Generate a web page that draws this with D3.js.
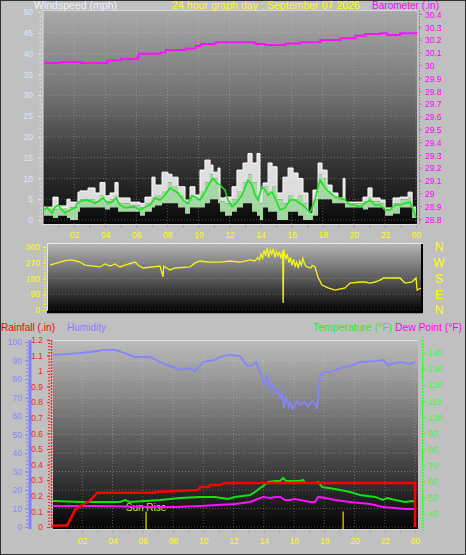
<!DOCTYPE html>
<html><head><meta charset="utf-8">
<script src="https://cdn.jsdelivr.net/npm/d3@7"></script>
<style>
html,body{margin:0;padding:0;background:#c0c0c0;}
svg{display:block;font-family:"Liberation Sans",Arial,sans-serif;}
</style></head><body>
<svg id="c" width="466" height="555"></svg>
<script>
// ---------- DATA ----------
const hourTicks = [2,4,6,8,10,12,14,16,18,20,22,24];
const windTicks = [0,5,10,15,20,25,30,35,40,45,50];
const baroTicks = [28.8,28.9,29,29.1,29.2,29.3,29.4,29.5,29.6,29.7,29.8,29.9,30,30.1,30.2,30.3,30.4];
const dirTicks = [0,90,180,270,360];
const compass = ["N","E","S","W","N"];
const humTicks = [0,10,20,30,40,50,60,70,80,90,100];
const rainTicks = [0,0.1,0.2,0.3,0.4,0.5,0.6,0.7,0.8,0.9,1,1.1,1.2];
const tempTicks = [40,50,60,70,80,90,100,110,120,130,140];

// wind (mph): time (h), gust, speed, low
const windHours = [0.06,0.64,0.97,1.54,1.74,2.25,2.38,2.9,3.35,3.67,3.99,4.31,4.63,4.83,5.6,6.24,6.56,7.01,7.21,7.66,8.04,8.3,8.69,9.14,9.46,9.78,10.1,10.42,10.75,10.94,11.26,11.39,11.71,12.16,12.48,12.87,13.19,13.45,13.77,13.96,14.16,14.48,14.74,15.06,15.44,15.77,16.09,16.41,16.73,17.05,17.37,17.7,17.95,18.28,18.6,18.98,19.31,19.43,20.59,20.91,21.17,21.69,22.01,22.52,22.97,23.49,23.75,24];
const windGust = [3.1,5.5,3,5,4.3,6.7,7,7.7,6.5,9,5.8,6.5,9,5.3,4.3,4,5.5,10.3,8.4,11.5,11,10.3,8,4.8,8,6,12,14.4,13.2,11.5,12.5,5.3,5.5,8,12,13.7,16,13.7,16,7.2,8.9,13.7,12.8,6.5,10.3,12.5,11.3,10,6.5,1.5,7.2,13.7,12,8.4,6.5,5.3,10,4.3,5.5,7.7,5.3,4.8,2.9,5.3,5.5,6.7,3.1,3.1];
const windSpeed = [3,2.5,3.5,2,3,4,5,5,4.5,6,4.5,5,6,4,3.5,3,4,5.5,6,7,9,8,6,4,6,5,7,9,11,10,8,4.5,4,5,7,9,11,9,6,4,8,7,8,5,4,6,5,6,4,1.5,5,11,10,7,5.5,5,6,4,4.5,5.5,4.5,4,2.5,4,5,5.5,3,1];
const windLow = [1,0.5,1,0.5,0,2,3,3,3,3,2.5,3,3,2,2,1,2,3,3.5,4,4,4,3,1.5,3,3,3,4,5,5,4,2,1,2,3,4,4,2,1,0,3,2,2,0,0,2,2,1,0,0,1,5,5,5,4,4,4,3,2.5,3,3,3,1,1.5,3,3,0.5,0];
// wind average: [hour, mph]
const windAvg = [[0.06,2.4],[0.26,3],[0.58,1.7],[0.77,3.1],[0.97,3.6],[1.22,2.4],[1.42,1.7],[1.74,2.4],[2.06,2.9],[2.25,4.3],[2.7,4.8],[3.02,4.6],[3.35,4],[3.67,4.8],[3.86,5.3],[4.18,4],[4.44,4.3],[4.7,5.3],[4.95,3.6],[5.28,2.9],[5.6,3.1],[5.92,3.1],[6.24,2.4],[6.56,3.1],[6.89,3.6],[7.21,5.3],[7.53,4.8],[7.85,6],[8.17,7.7],[8.37,7.2],[8.69,6.5],[9.01,4.8],[9.33,4],[9.59,5.8],[9.91,5.3],[10.1,4.8],[10.42,6.7],[10.75,9.1],[10.94,10],[11.2,8.9],[11.39,8.4],[11.71,7.2],[11.9,4.8],[12.16,3.2],[12.48,4.3],[12.81,6],[13.19,9.6],[13.45,8.4],[13.64,6],[13.84,4.8],[14.09,8],[14.29,7.2],[14.48,6],[14.74,6.7],[14.99,4.8],[15.25,2.4],[15.57,2.9],[15.89,4.8],[16.22,4.8],[16.54,4],[16.86,3.1],[17.18,1.7],[17.5,4.8],[17.82,9.6],[18.15,7.7],[18.47,6.5],[18.79,5.5],[19.11,5.3],[19.43,4.8],[19.76,3.6],[20.08,3.6],[20.4,3.1],[20.72,4],[21.04,4.8],[21.36,3.6],[21.69,3.6],[22.01,2.4],[22.33,2.4],[22.65,3.6],[22.97,3.6],[23.29,4],[23.62,4.3],[23.81,2.4],[24,0.7]];
// barometer (in): [hour, value]
const baro = [[0.06,30.017],[1.16,30.025],[2.44,30.017],[4.11,30.025],[4.17,30.04],[5.0,30.048],[6.1,30.07],[6.16,30.09],[7.57,30.10],[7.9,30.12],[8.86,30.12],[9.18,30.13],[9.82,30.15],[10.14,30.166],[11.1,30.18],[12.7,30.18],[13.67,30.166],[14.3,30.158],[14.96,30.158],[15.6,30.17],[16.56,30.18],[17.84,30.197],[19.13,30.21],[20.1,30.23],[20.73,30.244],[21.7,30.25],[22.14,30.236],[22.98,30.25],[24,30.26]];
// wind direction (deg): [hour, value]
const windDir = [[0.13,257],[0.77,274],[1.09,282],[1.5,286],[1.8,280],[2.06,274],[2.38,257],[3.35,246],[3.67,263],[3.99,251],[4.31,263],[4.63,246],[4.95,257],[5.6,274],[5.79,257],[6.11,240],[7.21,251],[7.4,189],[7.45,251],[7.53,246],[7.85,229],[8.17,240],[9.14,246],[9.46,269],[9.78,280],[10.42,274],[11.07,274],[11.71,280],[12.36,274],[13.0,286],[13.3,280],[13.5,300],[13.6,285],[13.7,320],[13.8,295],[13.9,340],[14.0,310],[14.1,355],[14.2,300],[14.3,345],[14.4,320],[14.5,350],[14.6,300],[14.7,335],[14.8,310],[14.9,330],[15.0,295],[15.1,340],[15.13,40],[15.17,345],[15.3,290],[15.4,320],[15.5,270],[15.6,300],[15.7,255],[15.8,290],[15.9,250],[16.0,275],[16.1,240],[16.2,280],[16.3,255],[16.4,295],[16.5,265],[16.6,250],[16.7,245],[16.9,240],[17.0,255],[17.18,246],[17.37,189],[17.63,143],[18.02,126],[18.47,114],[19.11,126],[19.43,154],[20.08,160],[20.4,160],[20.72,154],[21.04,160],[21.36,171],[21.6,183],[22.33,183],[22.65,183],[22.97,154],[23.42,160],[23.68,183],[23.75,114],[24,126]];
// humidity (%): [hour, value]
const humidity = [[0.07,93],[1.85,94],[2.51,94.6],[3.5,95.7],[4.17,95.7],[4.83,94],[5.49,91.9],[6.48,91.9],[7.14,89.2],[7.8,87],[8.47,84.9],[9.13,85.9],[9.46,84.3],[9.99,89.2],[10.78,90.3],[11.11,91.9],[11.77,93],[12.43,92.4],[12.9,87],[13.29,87.6],[13.49,89.2],[13.89,80.5],[14.09,76.8],[14.2,82],[14.29,79.5],[14.42,75.1],[14.55,77],[14.75,72.4],[14.9,74],[15.08,70.3],[15.2,72],[15.34,64.3],[15.45,70],[15.54,68.6],[15.65,65],[15.74,67.6],[15.9,64],[16.07,65.9],[16.2,68],[16.4,65.9],[16.55,67],[16.73,67.6],[16.9,65],[17.06,67],[17.2,68],[17.39,66.5],[17.53,63.8],[17.72,82.2],[18.06,83.8],[18.39,83.8],[19.05,85.9],[19.71,87],[20.37,89.2],[21.36,89.7],[21.89,90.3],[22.22,87.6],[23.02,89.2],[23.68,88.1],[24,89.2]];
// rainfall (in): [hour, value]
const rainfall = [[0,0],[0.13,0.01],[0.99,0.01],[1.19,0.045],[1.52,0.11],[1.98,0.14],[2.51,0.17],[2.98,0.22],[6.81,0.22],[6.82,0.225],[9.66,0.237],[9.79,0.256],[10.32,0.256],[10.45,0.27],[11.11,0.27],[11.44,0.282],[24,0.282],[24.01,0]];
// temperature (F): [hour, value]
const temperature = [[0.07,48.1],[1.98,47.5],[4.5,47.5],[4.83,48.7],[5.16,47.5],[7.14,48.7],[8.47,49.9],[9.79,50.6],[10.78,50.6],[11.64,49.3],[12.1,50.6],[13.1,51.8],[13.43,53.7],[13.76,56.1],[13.96,57.4],[14.29,59.9],[14.75,60.5],[15.08,60.5],[15.28,62.4],[15.48,60.5],[15.74,60.5],[16.4,60.5],[16.6,61.1],[16.73,59.3],[17.06,59.3],[17.39,59.3],[17.59,59.9],[17.86,56.8],[18.72,55.5],[19.71,53.7],[20.37,51.8],[21.36,50.6],[21.89,48.7],[22.16,49.9],[22.69,48.7],[23.35,47.5],[23.81,48.1],[24,47.5]];
// dew point (F): [hour, value]
const dewPoint = [[0.07,45],[3.17,45],[6.48,44.3],[8.13,44.3],[9.79,45],[12.1,46.2],[13.1,47.5],[13.43,48.7],[13.76,49.9],[13.96,50.6],[14.42,49.9],[14.75,50.6],[15.08,50.6],[15.41,48.7],[15.74,48.7],[16.07,49.3],[16.4,48.7],[17.06,47.5],[17.39,47.5],[17.59,50.6],[18.06,49.9],[18.72,48.7],[19.71,47.5],[21.03,46.2],[21.89,44.3],[22.69,43.7],[23.35,43.1],[24,43.1]];
const sunRise = 6.22, sunSet = 19.25;

// ---------- CHART ----------
const svg = d3.select("#c");
const defs = svg.append("defs");
function grad(id, stops){
  const g = defs.append("linearGradient").attr("id",id).attr("x1",0).attr("y1",0).attr("x2",0).attr("y2",1);
  stops.forEach(s=>g.append("stop").attr("offset",s[0]).attr("stop-color",s[1]));
}
grad("gTop",[[0,"#aaaaaa"],[0.4,"#717171"],[0.65,"#404040"],[0.9,"#181818"],[1,"#070707"]]);
grad("gDir",[[0,"#b4b4b4"],[0.5,"#5c5c5c"],[1,"#020202"]]);
grad("gBot",[[0,"#bcbcbc"],[0.45,"#6c6c6c"],[0.75,"#323232"],[1,"#030303"]]);
function clip(id,x,y,w,h){ defs.append("clipPath").attr("id",id).append("rect").attr("x",x).attr("y",y).attr("width",w).attr("height",h); }

const F = "Liberation Sans, Arial, sans-serif";
const fmtHour = h => String(h%24).padStart(2,"0");
function styleAxis(g,color,lineColor,fs){
  g.select(".domain").remove();
  g.selectAll("line").attr("stroke",lineColor||color);
  g.selectAll("text").attr("fill",color).style("font-size",(fs||8.5)+"px").style("font-family",F);
}
function title(txt,x,y,w,color,fs){
  svg.append("text").attr("x",x).attr("y",y).attr("textLength",w).attr("lengthAdjust","spacingAndGlyphs")
    .attr("fill",color).style("font-size",(fs||11)+"px").style("font-family",F).text(txt);
}

// ===== TOP PANEL =====
const TP = {x:43,y:10,w:374,h:214};
const xTop = d3.scaleLinear().domain([0,24]).range([43,416]);
const yWind = d3.scaleLinear().domain([0,50]).range([220,12]);
const yBaro = d3.scaleLinear().domain([28.8,30.4]).range([219,14]);
clip("cTop",TP.x,TP.y,TP.w,TP.h);
svg.append("rect").attr("x",TP.x).attr("y",TP.y).attr("width",TP.w).attr("height",TP.h).attr("fill","url(#gTop)");
const gTop = svg.append("g").attr("clip-path","url(#cTop)");
windTicks.forEach(v=>gTop.append("line").attr("x1",TP.x).attr("x2",TP.x+TP.w).attr("y1",yWind(v)).attr("y2",yWind(v))
  .attr("stroke","#d0d0d0").attr("stroke-opacity",0.35).attr("stroke-dasharray","1,2"));
hourTicks.forEach(h=>gTop.append("line").attr("x1",xTop(h)).attr("x2",xTop(h)).attr("y1",TP.y).attr("y2",TP.y+TP.h)
  .attr("stroke","#d0d0d0").attr("stroke-opacity",0.35).attr("stroke-dasharray","1,2"));
const windRows = windHours.map((h,i)=>({h, g:windGust[i], s:windSpeed[i], l:windLow[i]}));
gTop.append("path").datum(windRows).attr("fill","#f2f2f2").attr("fill-opacity",0.9)
  .attr("d",d3.area().curve(d3.curveStepAfter).x(d=>xTop(d.h)).y0(d=>yWind(d.s)).y1(d=>yWind(d.g)));
gTop.append("path").datum(windRows).attr("fill","#b4ecb4").attr("fill-opacity",0.9)
  .attr("d",d3.area().curve(d3.curveStepAfter).x(d=>xTop(d.h)).y0(d=>yWind(d.l)).y1(d=>yWind(d.s)));
gTop.append("path").datum(windRows).attr("fill","none").attr("stroke","#ffffff").attr("stroke-width",1)
  .attr("d",d3.line().curve(d3.curveStepAfter).x(d=>xTop(d.h)).y(d=>yWind(d.g)));
gTop.append("path").datum(windAvg).attr("fill","none").attr("stroke","#1ee01e").attr("stroke-width",1.6)
  .attr("d",d3.line().x(d=>xTop(d[0])).y(d=>yWind(d[1])));
gTop.append("path").datum(baro).attr("fill","none").attr("stroke","#ff10ff").attr("stroke-width",2)
  .attr("d",d3.line().curve(d3.curveStepAfter).x(d=>xTop(d[0])).y(d=>yBaro(d[1])));
// frame
svg.append("line").attr("x1",43).attr("x2",43).attr("y1",10).attr("y2",225).attr("stroke","#e0e0e0");
svg.append("line").attr("x1",43).attr("x2",417).attr("y1",224.5).attr("y2",224.5).attr("stroke","#e0e0e0");
svg.append("line").attr("x1",43).attr("x2",417).attr("y1",10.5).attr("y2",10.5).attr("stroke","#d8d8d8");
// left wind axis
const aw = svg.append("g").attr("transform","translate(41,0)")
  .call(d3.axisLeft(yWind).tickValues(windTicks).tickSize(3).tickPadding(5));
styleAxis(aw,"#dfe6f6","#dfe6f6");
svg.append("g").attr("transform","translate(41,0)")
  .call(d3.axisLeft(yWind).ticks(50).tickSize(1.5).tickFormat(""))
  .call(g=>{g.select(".domain").remove(); g.selectAll("line").attr("stroke","#e8e8f0");});
// right baro axis
svg.append("line").attr("x1",419.5).attr("x2",419.5).attr("y1",10).attr("y2",224).attr("stroke","#ff40ff").attr("stroke-dasharray","2,1");
const ab = svg.append("g").attr("transform","translate(419,0)")
  .call(d3.axisRight(yBaro).tickValues(baroTicks).tickSize(3).tickPadding(3).tickFormat(v=>String(+v.toFixed(1))));
styleAxis(ab,"#ff00ff","#ff40ff");
ab.selectAll(".tick text").attr("dy","0.38em");
// bottom time axis
const at = svg.append("g").attr("transform","translate(0,225)")
  .call(d3.axisBottom(xTop).tickValues(d3.range(1,25)).tickSize(3).tickPadding(3.5).tickFormat(h=>h%2===0?fmtHour(h):""));
styleAxis(at,"#ffff00","#a0a0a0");
// titles
title("Windspeed (mph)",34,8.6,83,"#eef0ff",10);
title("24 hour graph day : September 07 2026",172,8.6,188,"#ffff00",10);
title("Barometer (.in)",372,8.6,67,"#ff00ff",10);

// ===== DIRECTION PANEL =====
const DP = {x:47,y:244,w:375,h:68};
const xDir = d3.scaleLinear().domain([0,24]).range([48,421]);
const yDir = d3.scaleLinear().domain([0,360]).range([310,247]);
clip("cDir",DP.x,DP.y,DP.w,DP.h);
svg.append("rect").attr("x",DP.x).attr("y",DP.y).attr("width",DP.w).attr("height",DP.h).attr("fill","url(#gDir)");
const gDir = svg.append("g").attr("clip-path","url(#cDir)");
dirTicks.forEach(v=>gDir.append("line").attr("x1",DP.x).attr("x2",DP.x+DP.w).attr("y1",yDir(v)).attr("y2",yDir(v))
  .attr("stroke","#d0d0d0").attr("stroke-opacity",0.3).attr("stroke-dasharray","1,2"));
gDir.append("path").datum(windDir).attr("fill","none").attr("stroke","#f4f41c").attr("stroke-width",1.3)
  .attr("d",d3.line().x(d=>xDir(d[0])).y(d=>yDir(d[1])));
svg.append("line").attr("x1",47).attr("x2",423).attr("y1",243.5).attr("y2",243.5).attr("stroke","#e8e8e8");
svg.append("line").attr("x1",47.5).attr("x2",47.5).attr("y1",243).attr("y2",313).attr("stroke","#e8e8e8");
svg.append("line").attr("x1",47).attr("x2",423).attr("y1",312).attr("y2",312).attr("stroke","#000").attr("stroke-width",2.5);
svg.append("line").attr("x1",422).attr("x2",422).attr("y1",244).attr("y2",313).attr("stroke","#000").attr("stroke-width",2);
const ad = svg.append("g").attr("transform","translate(46,0)")
  .call(d3.axisLeft(yDir).tickValues(dirTicks).tickSize(3).tickPadding(3));
styleAxis(ad,"#ffff00","#ffff00");
svg.append("g").attr("transform","translate(46,0)")
  .call(d3.axisLeft(yDir).tickValues(d3.range(0,361,18)).tickSize(2).tickFormat(""))
  .call(g=>{g.select(".domain").remove(); g.selectAll("line").attr("stroke","#ffff00");});
svg.append("g").selectAll("text").data(dirTicks).join("text")
  .attr("x",439).attr("y",d=>yDir(d)).attr("dy","0.36em").attr("text-anchor","middle")
  .attr("fill","#ffff00").style("font-size","12px").style("font-family",F)
  .text((d,i)=>compass[i]);

// ===== BOTTOM PANEL =====
const BP = {x:53,y:340,w:365,h:189};
const xBot = d3.scaleLinear().domain([0,24]).range([52,415]);
const yHum = d3.scaleLinear().domain([0,100]).range([527,342]);
const yRain = d3.scaleLinear().domain([0,1.2]).range([527,339.8]);
const yTemp = d3.scaleLinear().domain([40,140]).range([514,353]);
clip("cBot",BP.x,BP.y,BP.w,BP.h);
svg.append("rect").attr("x",BP.x).attr("y",BP.y).attr("width",BP.w).attr("height",BP.h).attr("fill","url(#gBot)");
const gBot = svg.append("g").attr("clip-path","url(#cBot)");
humTicks.forEach(v=>gBot.append("line").attr("x1",BP.x).attr("x2",BP.x+BP.w).attr("y1",yHum(v)).attr("y2",yHum(v))
  .attr("stroke","#d0d0d0").attr("stroke-opacity",0.35).attr("stroke-dasharray","1,2"));
hourTicks.forEach(h=>gBot.append("line").attr("x1",xBot(h)).attr("x2",xBot(h)).attr("y1",BP.y).attr("y2",BP.y+BP.h)
  .attr("stroke","#d0d0d0").attr("stroke-opacity",0.35).attr("stroke-dasharray","1,2"));
// sun markers
[sunRise,sunSet].forEach(h=>gBot.append("line").attr("x1",xBot(h)).attr("x2",xBot(h)).attr("y1",yRain(0.1)).attr("y2",BP.y+BP.h)
  .attr("stroke","#b8b800").attr("stroke-width",1.5));
gBot.append("text").attr("x",xBot(sunRise)).attr("y",511).attr("text-anchor","middle").attr("fill","#d8d838")
  .style("font-size","10px").style("font-family",F).text("Sun Rise");
gBot.append("path").datum(humidity).attr("fill","none").attr("stroke","#8484ff").attr("stroke-width",1.8)
  .attr("d",d3.line().x(d=>xBot(d[0])).y(d=>yHum(d[1])));
gBot.append("path").datum(dewPoint).attr("fill","none").attr("stroke","#ff10ff").attr("stroke-width",2)
  .attr("d",d3.line().x(d=>xBot(d[0])).y(d=>yTemp(d[1])));
gBot.append("path").datum(temperature).attr("fill","none").attr("stroke","#12e012").attr("stroke-width",2)
  .attr("d",d3.line().x(d=>xBot(d[0])).y(d=>yTemp(d[1])));
svg.append("path").datum(rainfall).attr("fill","none").attr("stroke","#ff0000").attr("stroke-width",2.5)
  .attr("d",d3.line().x(d=>xBot(Math.min(d[0],24))).y(d=>yRain(d[1])));
svg.append("line").attr("x1",53).attr("x2",418).attr("y1",340.5).attr("y2",340.5).attr("stroke","#e0e0e0");
// humidity axis
svg.append("rect").attr("x",28.5).attr("y",340).attr("width",3).attr("height",189).attr("fill","#8080ff");
const ah = svg.append("g").attr("transform","translate(28,0)")
  .call(d3.axisLeft(yHum).tickValues(humTicks).tickSize(3).tickPadding(3));
styleAxis(ah,"#8888ff","#8080ff");
svg.append("g").attr("transform","translate(28,0)")
  .call(d3.axisLeft(yHum).tickValues(d3.range(0,101,2)).tickSize(2).tickFormat(""))
  .call(g=>{g.select(".domain").remove(); g.selectAll("line").attr("stroke","#8080ff");});
// rainfall axis
svg.append("line").attr("x1",51.5).attr("x2",51.5).attr("y1",340).attr("y2",529).attr("stroke","#ff2020").attr("stroke-dasharray","2,1").attr("stroke-width",1.5);
const ar = svg.append("g").attr("transform","translate(50,0)")
  .call(d3.axisLeft(yRain).tickValues(rainTicks).tickSize(3).tickPadding(4).tickFormat(v=>String(+v.toFixed(1))));
styleAxis(ar,"#ff2020","#ff2020");
svg.append("g").attr("transform","translate(50,0)")
  .call(d3.axisLeft(yRain).tickValues(d3.range(0,121,2).map(v=>v/100)).tickSize(2).tickFormat(""))
  .call(g=>{g.select(".domain").remove(); g.selectAll("line").attr("stroke","#ff2020");});
// temperature axis
svg.append("line").attr("x1",422.5).attr("x2",422.5).attr("y1",340).attr("y2",529).attr("stroke","#30ff30").attr("stroke-dasharray","2,1").attr("stroke-width",1.5);
const aT = svg.append("g").attr("transform","translate(422,0)")
  .call(d3.axisRight(yTemp).tickValues(tempTicks).tickSize(3).tickPadding(3));
styleAxis(aT,"#30ff30","#30ff30");
svg.append("g").attr("transform","translate(422,0)")
  .call(d3.axisRight(yTemp).tickValues(d3.range(30,151,2)).tickSize(2).tickFormat(""))
  .call(g=>{g.select(".domain").remove(); g.selectAll("line").attr("stroke","#30ff30");});
// time axis
const ab2 = svg.append("g").attr("transform","translate(0,530)")
  .call(d3.axisBottom(xBot).tickValues(d3.range(1,25)).tickSize(3).tickPadding(5).tickFormat(h=>h%2===0?fmtHour(h):""));
styleAxis(ab2,"#ffff00","#a8a8a8");
svg.append("line").attr("x1",53).attr("x2",418).attr("y1",529.5).attr("y2",529.5).attr("stroke","#e0e0e0");
// titles
title("Rainfall (.in)",1,331,54,"#ff0000");
title("Humidity",67,331,39,"#8080ff");
title("Temperature (°F)",313,331,79,"#22ee22");
title("Dew Point (°F)",395,331,67,"#ff00ff");

// outer border
svg.append("rect").attr("x",0.5).attr("y",0.5).attr("width",465).attr("height",554).attr("fill","none").attr("stroke","#303030");
</script>
</body></html>
